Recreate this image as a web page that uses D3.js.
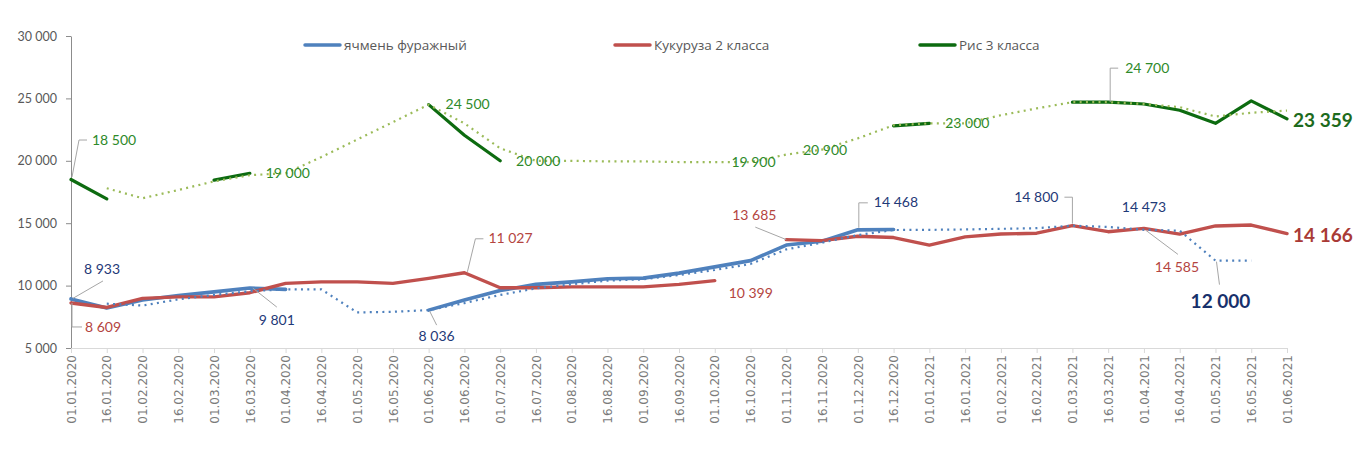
<!DOCTYPE html>
<html><head><meta charset="utf-8">
<script src="https://cdn.jsdelivr.net/npm/d3@7"></script>
<style>
html,body{margin:0;padding:0;background:#fff;}
svg{display:block;}
</style></head>
<body>
<div id="chart"></div>
<script>
const categories = ["01.01.2020","16.01.2020","01.02.2020","16.02.2020","01.03.2020","16.03.2020","01.04.2020","16.04.2020","01.05.2020","16.05.2020","01.06.2020","16.06.2020","01.07.2020","16.07.2020","01.08.2020","16.08.2020","01.09.2020","16.09.2020","01.10.2020","16.10.2020","01.11.2020","16.11.2020","01.12.2020","16.12.2020","01.01.2021","16.01.2021","01.02.2021","16.02.2021","01.03.2021","16.03.2021","01.04.2021","16.04.2021","01.05.2021","16.05.2021","01.06.2021"];

// ячмень фуражный (solid)
const barley = [8933,8200,8850,9200,9500,9801,9700,null,null,null,8036,8850,9600,10100,10300,10550,10600,11000,11500,12000,13250,13550,14468,14500,null,null,null,null,null,null,null,null,null,null,null];
// ячмень фуражный (dotted trend)
const barleyTrend = [null,8550,8400,8900,9250,9550,9700,9700,7850,7900,8036,8600,9250,9780,10100,10400,10500,10850,11250,11730,12900,13440,14050,14455,14468,14500,14550,14600,14800,14700,14473,14400,12000,12000,null];
// Кукуруза 2 класса
const corn = [8609,8250,8980,9100,9100,9430,10180,10300,10300,10180,10580,11027,9830,9830,9900,9900,9900,10100,10399,null,13685,13600,13950,13850,13250,13900,14130,14200,14800,14320,14585,14130,14780,14850,14166];
// Рис 3 класса (solid)
const rice = [18500,16950,null,null,18450,19000,null,null,null,null,24500,22050,20000,null,null,null,null,null,null,null,null,null,null,22800,23000,null,null,null,24700,24700,24550,24050,23000,24800,23359];
// Рис 3 класса (dotted trend)
const riceTrend = [null,17800,17000,17660,18350,18850,19000,20300,21700,23100,24500,23000,21000,20000,20000,19950,19950,19900,19900,19900,20500,20900,21800,22850,23000,23000,23650,24200,24700,24700,24550,24300,23550,23850,24020];

const yTicks = [5000,10000,15000,20000,25000,30000];
const legendNames = ["ячмень фуражный","Кукуруза 2 класса","Рис 3 класса"];

const W = 1357, H = 455;
const svg = d3.select("#chart").append("svg").attr("width", W).attr("height", H);
svg.append("rect").attr("width", W).attr("height", H).attr("fill", "#fff");

const x = d3.scalePoint().domain(categories).range([71, 1287]);
const y = d3.scaleLinear().domain([5000, 30000]).range([348, 36]);
const fmt = v => d3.format(",")(v).replace(/,/g, "\u00a0");

const C = {
  blue: "#4F81BD", red: "#C0504D", green: "#0D6B10", lgreen: "#9BBB59",
  navyText: "#1F3A78", redText: "#B4453F", greenText: "#2E8A2A"
};

// Y axis
const gy = svg.append("g").attr("transform", "translate(71,0)")
  .call(d3.axisLeft(y).tickValues(yTicks).tickSize(5).tickSizeOuter(0).tickPadding(9).tickFormat(fmt));
gy.select(".domain").attr("stroke", "#8c8c8c");
gy.selectAll(".tick line").attr("stroke", "#8c8c8c");
gy.selectAll("text").attr("fill", "#595959").style("font-family", "Lato, 'Open Sans', sans-serif").style("font-size", "12.5px");

// X axis
const gx = svg.append("g").attr("transform", "translate(0,348)")
  .call(d3.axisBottom(x).tickSize(5).tickSizeOuter(0));
gx.select(".domain").attr("stroke", "#d9d9d9");
gx.selectAll(".tick line").attr("stroke", "#d9d9d9");
gx.selectAll("text")
  .attr("transform", "rotate(-90)").attr("text-anchor", "end")
  .attr("x", -7).attr("y", 0).attr("dy", "0.35em")
  .attr("fill", "#7a7a7a")
  .style("font-family", "'DejaVu Sans', sans-serif").style("font-size", "12px");

const line = d3.line().defined(d => d != null).x((d, i) => x(categories[i])).y(d => y(d));

function drawSolid(data, color, w) {
  svg.append("path").datum(data).attr("d", line).attr("fill", "none")
    .attr("stroke", color).attr("stroke-width", w)
    .attr("stroke-linejoin", "round").attr("stroke-linecap", "round");
}
function drawDotted(data, color, w) {
  svg.append("path").datum(data).attr("d", line).attr("fill", "none")
    .attr("stroke", color).attr("stroke-width", w)
    .attr("stroke-dasharray", "2,4.3");
}
drawSolid(barley, C.blue, 3.6);
drawSolid(corn, C.red, 3.4);
drawSolid(rice, C.green, 3.2);
drawDotted(barleyTrend, C.blue, 2.2);
drawDotted(riceTrend, C.lgreen, 2.2);

// Data labels (offsets relative to the labelled point)
const seriesMap = { barley, barleyTrend, corn, rice, riceTrend };
const labelSpecs = [
  { s: "rice", i: 0, dx: 21, dy: -39.5, a: "start", c: C.greenText, lead: [[1,-2.5],[8,-39.5],[16,-39.5]] },
  { s: "barley", i: 0, dx: 31, dy: -30, a: "middle", c: C.navyText, lead: [[2,-0.6],[32,-18]] },
  { s: "corn", i: 0, dx: 14, dy: 24, a: "start", c: C.redText, lead: [[1,0],[1,24],[11,24]] },
  { s: "barley", i: 5, dx: 27, dy: 32, a: "middle", c: C.navyText, lead: [[3,0],[27,19]] },
  { s: "rice", i: 5, dx: 38, dy: 0, a: "middle", c: C.greenText },
  { s: "barley", i: 10, dx: 8, dy: 26, a: "middle", c: C.navyText, lead: [[1,1],[8,15]] },
  { s: "rice", i: 10, dx: 39, dy: -0.5, a: "middle", c: C.greenText },
  { s: "corn", i: 11, dx: 24, dy: -35, a: "start", c: C.redText, lead: [[3,-1],[11,-34],[19,-34]] },
  { s: "rice", i: 12, dx: 38, dy: 0, a: "middle", c: C.greenText },
  { s: "corn", i: 18, dx: 36, dy: 12.5, a: "middle", c: C.redText },
  { s: "riceTrend", i: 19, dx: 3, dy: 0, a: "middle", c: C.greenText },
  { s: "corn", i: 20, dx: -32, dy: -24.5, a: "middle", c: C.redText, lead: [[0,0],[-31,-12.5]] },
  { s: "riceTrend", i: 21, dx: 3, dy: 0, a: "middle", c: C.greenText },
  { s: "barley", i: 22, dx: 16, dy: -28, a: "start", c: C.navyText, lead: [[1,-2],[1,-27],[10,-27]] },
  { s: "rice", i: 24, dx: 38, dy: 0, a: "middle", c: C.greenText },
  { s: "barleyTrend", i: 28, dx: -14, dy: -29, a: "end", c: C.navyText, lead: [[0,-2],[0,-28.5],[-8,-28.5]] },
  { s: "rice", i: 29, dx: 17, dy: -34, a: "start", c: C.greenText, lead: [[2,0],[2,-34],[10,-34]] },
  { s: "barleyTrend", i: 30, dx: 0, dy: -23, a: "middle", c: C.navyText },
  { s: "corn", i: 30, dx: 33, dy: 39, a: "middle", c: C.redText, lead: [[2,2],[34,26]] },
  { s: "barleyTrend", i: 32, dx: 5, dy: 41, a: "middle", c: "#17306B", bold: true, lead: [[1,1],[4,24]] },
  { s: "rice", i: 34, dx: 6, dy: 1, a: "start", c: "#1D6B1D", bold: true },
  { s: "corn", i: 34, dx: 6, dy: 2, a: "start", c: "#A93A36", bold: true }
];

const gl = svg.append("g");
labelSpecs.forEach(l => {
  const v = seriesMap[l.s][l.i];
  const px = x(categories[l.i]), py = y(v);
  if (l.lead) {
    gl.append("path")
      .attr("d", d3.line()(l.lead.map(p => [px + p[0], py + p[1]])))
      .attr("fill", "none").attr("stroke", "#a6a6a6").attr("stroke-width", 1);
  }
  gl.append("text")
    .attr("x", px + l.dx).attr("y", py + l.dy).attr("dy", "0.36em")
    .attr("text-anchor", l.a).attr("fill", l.c)
    .style("font-family", "Lato, 'Open Sans', sans-serif")
    .style("font-size", l.bold ? "19px" : "14px")
    .style("font-weight", l.bold ? "bold" : "normal")
    .text(fmt(v));
});

// Legend
const legendColors = [C.blue, C.red, C.green];
const legendX = [305, 615, 920];
const lg = svg.append("g").attr("transform", "translate(0,45)");
legendNames.forEach((n, k) => {
  lg.append("line").attr("x1", legendX[k]).attr("x2", legendX[k] + 35).attr("y1", 0).attr("y2", 0)
    .attr("stroke", legendColors[k]).attr("stroke-width", 3.5).attr("stroke-linecap", "round");
  lg.append("text").attr("x", legendX[k] + 39).attr("y", 0).attr("dy", "0.35em")
    .attr("fill", "#595959")
    .style("font-family", "'Open Sans', sans-serif").style("font-size", "13.5px")
    .text(n);
});
</script>
</body></html>
